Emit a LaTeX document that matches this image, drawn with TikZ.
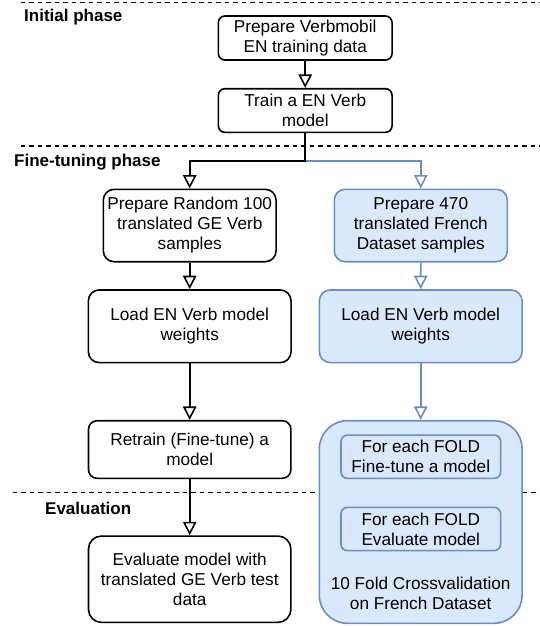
\documentclass[tikz,border=0pt]{standalone}
\usepackage{fontspec}
\setmainfont{Liberation Sans}
\usetikzlibrary{arrows.meta}
\definecolor{bfill}{HTML}{DAE8FC}
\definecolor{bline}{HTML}{6C8EBF}
\tikzset{
  box/.style={draw=black, fill=white, line width=1.6pt, inner sep=0pt, align=center,
    font=\fontsize{17.2}{20}\selectfont},
  bbox/.style={box, draw=bline, fill=bfill},
  phase/.style={inner sep=0pt, anchor=west, font=\fontsize{17}{20}\selectfont\bfseries},
  sep/.style={line width=1.5pt, dash pattern=on 4.6pt off 3.9pt},
  arr/.style={line width=1.6pt, -{Triangle[open, length=13.5pt, width=13.5pt, line width=1.6pt]}},
  barr/.style={arr, draw=bline},
}
\begin{document}
\begin{tikzpicture}[x=1pt, y=-1pt]
\useasboundingbox (0,0) rectangle (540,626);
% separators
\draw[sep] (20.7,2.7) -- (540,2.7);
\draw[sep] (20.7,146) -- (540,146);
\draw[sep] (12.7,492.7) -- (540,492.7);
% phase labels
\node[phase] (lInit) at (24,17.3) {Initial phase};
\node[phase] (lFine) at (14,162) {Fine-tuning phase};
\node[phase] (lEval) at (45,508.3) {Evaluation};
% initial phase
\node[box, minimum width=173.7pt, minimum height=44pt, rounded corners=6.6pt] (b1) at (305.2,38) {Prepare Verbmobil\\EN training data};
\node[box, minimum width=173.7pt, minimum height=43.6pt, rounded corners=6.5pt] (b2) at (305.2,110.5) {Train a EN Verb\\model};
% left column
\node[box, minimum width=172.7pt, minimum height=72.4pt, rounded corners=10.8pt] (l1) at (189.7,225.5) {Prepare Random 100\\translated GE Verb\\samples};
\node[box, minimum width=202.7pt, minimum height=72.7pt, rounded corners=10.9pt] (l2) at (189.7,326.3) {Load EN Verb model\\weights};
\node[box, minimum width=202.4pt, minimum height=57.6pt, rounded corners=8.6pt] (l3) at (189.7,449.5) {Retrain (Fine-tune) a\\model};
\node[box, minimum width=202.4pt, minimum height=86.3pt, rounded corners=12.9pt] (l4) at (189.7,579.2) {Evaluate model with\\translated GE Verb test\\data};
% right column
\node[bbox, minimum width=173pt, minimum height=72.4pt, rounded corners=10.8pt] (r1) at (420.8,225.5) {Prepare 470\\translated French\\Dataset samples};
\node[bbox, minimum width=202.7pt, minimum height=72.7pt, rounded corners=10.9pt] (r2) at (420.7,326.3) {Load EN Verb model\\weights};
\node[bbox, minimum width=202.7pt, minimum height=202.6pt, rounded corners=28pt] (cv) at (420.7,522) {};
\node[inner sep=0pt, align=center, font=\fontsize{17.2}{20}\selectfont] (cvlabel) at (420.7,593) {10 Fold Crossvalidation\\on French Dataset};
\node[bbox, minimum width=159.7pt, minimum height=43.3pt, rounded corners=6.5pt] (f1) at (420.8,456.7) {For each FOLD\\Fine-tune a model};
\node[bbox, minimum width=159.7pt, minimum height=43.3pt, rounded corners=6.5pt] (f2) at (420.8,529) {For each FOLD\\Evaluate model};
% connectors
\coordinate (j) at (305.2,160.7);
\draw[arr] (b1) -- (b2);
\draw[barr] (j) -| (r1.north);
\draw[arr] (b2.south) -- (j) -| (l1.north);
\draw[arr] (l1) -- (l2);
\draw[arr] (l2) -- (l3);
\draw[arr] (l3) -- (l4);
\draw[barr] (r1) -- (r2);
\draw[barr] (r2) -- (cv);
\end{tikzpicture}
\end{document}
